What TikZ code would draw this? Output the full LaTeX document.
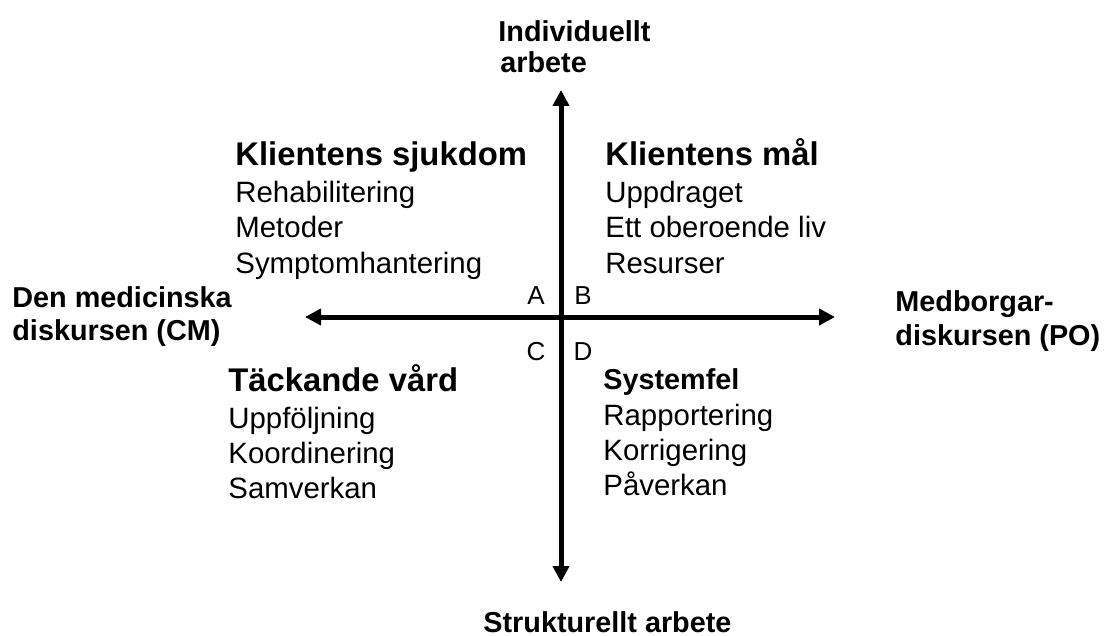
\documentclass[tikz,border=0pt]{standalone}
\usepackage{fontspec}
\setmainfont{Liberation Sans}
\usetikzlibrary{arrows.meta}
\tikzset{
  head/.style={anchor=base west,inner sep=0pt,font=\fontsize{16.4}{19}\selectfont\bfseries},
  item/.style={anchor=base west,inner sep=0pt,font=\fontsize{14.7}{17}\selectfont},
  pole/.style={anchor=base west,inner sep=0pt,font=\fontsize{14.4}{17}\selectfont\bfseries},
  quad/.style={anchor=base,inner sep=0pt,font=\fontsize{13}{15}\selectfont},
  axis/.style={line width=2.5pt,{Triangle[length=8pt,width=8pt]}-{Triangle[length=8pt,width=8pt]}}
}
\begin{document}
\begin{tikzpicture}[x=0.5pt,y=-0.5pt]
  \useasboundingbox (0,0) rectangle (1108,636);
  % axes
  \coordinate (north) at (561,90);
  \coordinate (south) at (561,582);
  \coordinate (west) at (305,317);
  \coordinate (east) at (835,317);
  \draw[axis] (west) -- (east);
  \draw[axis] (north) -- (south);
  % poles
  \node[pole] (ind1) at (498,42) {Individuellt};
  \node[pole] (ind2) at (500,73) {arbete};
  \node[pole] (str) at (483,632) {Strukturellt arbete};
  \node[pole] (cm1) at (12,307) {Den medicinska};
  \node[pole] (cm2) at (12,340) {diskursen (CM)};
  \node[pole] (po1) at (895,312) {Medborgar-};
  \node[pole] (po2) at (895,345) {diskursen (PO)};
  % quadrant letters
  \node[quad] (qa) at (536,305) {A};
  \node[quad] (qb) at (583,305) {B};
  \node[quad] (qc) at (536,360) {C};
  \node[quad] (qd) at (583,360) {D};
  % quadrant A
  \node[head] (ha) at (235,166) {Klientens sjukdom};
  \foreach \t [count=\i] in {Rehabilitering,Metoder,Symptomhantering}
    \node[item] (a\i) at (235,168+35*\i) {\t};
  % quadrant B
  \node[head] (hb) at (605,166) {Klientens mål};
  \foreach \t [count=\i] in {Uppdraget,Ett oberoende liv,Resurser}
    \node[item] (b\i) at (605,168+35*\i) {\t};
  % quadrant C
  \node[head] (hc) at (228,391) {Täckande vård};
  \foreach \t [count=\i] in {Uppföljning,Koordinering,Samverkan}
    \node[item] (c\i) at (228,393+35*\i) {\t};
  % quadrant D
  \node[pole] (hd) at (603,389) {Systemfel};
  \foreach \t [count=\i] in {Rapportering,Korrigering,Påverkan}
    \node[item] (d\i) at (603,390+35*\i) {\t};
\end{tikzpicture}
\end{document}
